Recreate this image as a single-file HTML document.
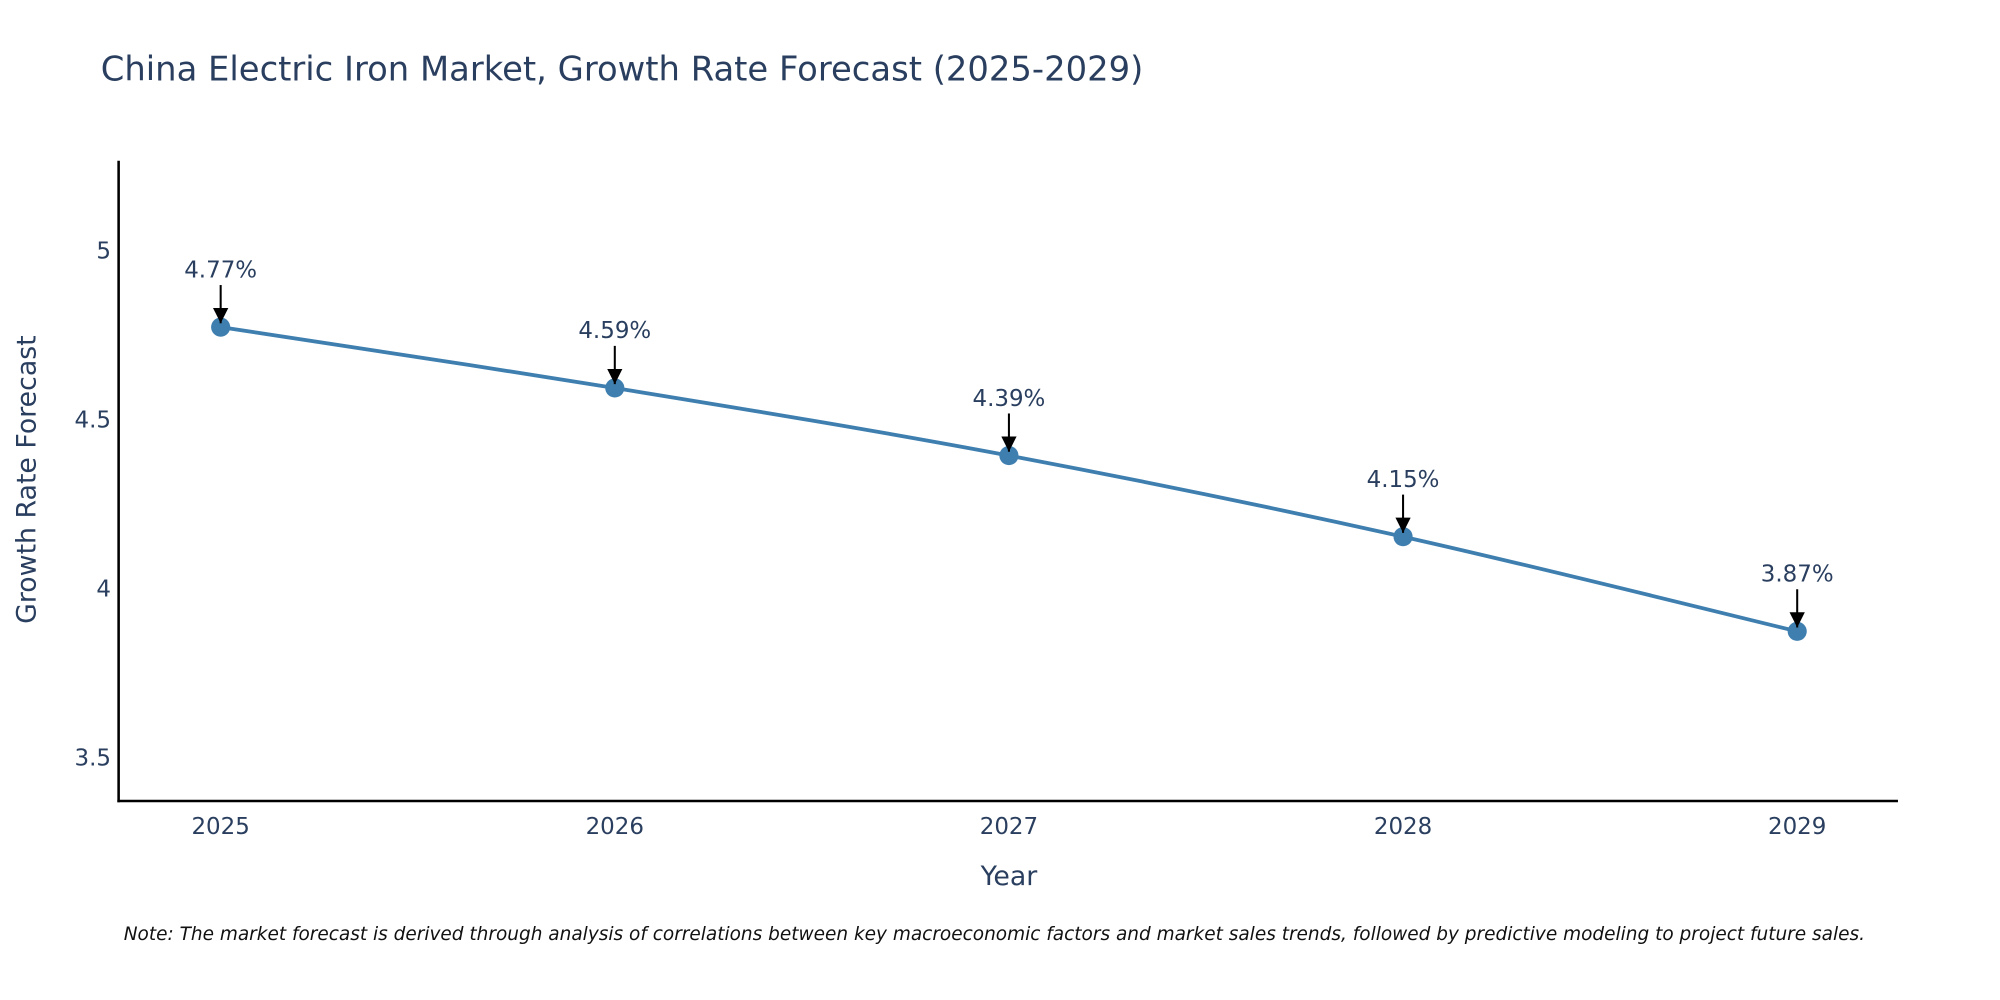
<!DOCTYPE html>
<html><head><meta charset="utf-8"><style>html,body{margin:0;padding:0;background:#fff;}svg{display:block;}</style></head>
<body>
<svg id="chart" width="2000" height="1000" viewBox="0 0 1568 784" preserveAspectRatio="none" xmlns="http://www.w3.org/2000/svg" font-family="'DejaVu Sans', 'Liberation Sans', sans-serif">
<defs><marker id="ah" viewBox="0 0 10 10" refX="10" refY="5" markerWidth="12" markerHeight="12" markerUnits="userSpaceOnUse" orient="auto"><path d="M0,0 L10,5 L0,10 z" fill="#000"/></marker></defs>
<rect width="1568" height="784" fill="#fff"/>
<text x="79" y="63" font-size="26.5" fill="#2a3f5f">China Electric Iron Market, Growth Rate Forecast (2025-2029)</text>
<g id="yticks"></g><g id="xticks"></g>
<line x1="93" y1="126" x2="93" y2="629" stroke="#000" stroke-width="2"/>
<line x1="92" y1="628" x2="1488" y2="628" stroke="#000" stroke-width="2"/>
<text transform="translate(28,376) rotate(-90)" text-anchor="middle" font-size="21" fill="#2a3f5f">Growth Rate Forecast</text>
<text x="791" y="694" text-anchor="middle" font-size="21" fill="#2a3f5f">Year</text>
<g id="series"></g>
<text x="97" y="737" font-size="14.5" font-style="italic" fill="#111">Note: The market forecast is derived through analysis of correlations between key macroeconomic factors and market sales trends, followed by predictive modeling to project future sales.</text>
</svg>
<script>
const years = [2025, 2026, 2027, 2028, 2029];
const growth = [4.77, 4.59, 4.39, 4.15, 3.87];
const yTicks = [3.5, 4, 4.5, 5];
const NS = 'http://www.w3.org/2000/svg';
function xs(i){ return 173 + i * 309; }
function ys(v){ return 628 - (v - 3.368) / 0.5 * 132.5; }
function mk(tag, attrs, parent){ const e = document.createElementNS(NS, tag); for (const k in attrs) e.setAttribute(k, attrs[k]); parent.appendChild(e); return e; }
const yg = document.getElementById('yticks');
yTicks.forEach(t => {
  const e = mk('text', {x: 87, y: ys(t) + 7, 'text-anchor': 'end', 'font-size': 18, fill: '#2a3f5f'}, yg);
  
  
  e.textContent = String(t);
});
const xg = document.getElementById('xticks');
years.forEach((yr, i) => {
  const e = mk('text', {x: xs(i), y: 654, 'text-anchor': 'middle', 'font-size': 18, fill: '#2a3f5f'}, xg);
  
  
  e.textContent = String(yr);
});
const sg = document.getElementById('series');
const pts = growth.map((v, i) => [xs(i), ys(v)]);
let d = 'M' + pts[0][0] + ',' + pts[0][1];
for (let i = 0; i < pts.length - 1; i++) {
  const p0 = pts[Math.max(0, i - 1)], p1 = pts[i], p2 = pts[i + 1], p3 = pts[Math.min(pts.length - 1, i + 2)];
  const c1x = p1[0] + (p2[0] - p0[0]) / 6, c1y = p1[1] + (p2[1] - p0[1]) / 6;
  const c2x = p2[0] - (p3[0] - p1[0]) / 6, c2y = p2[1] - (p3[1] - p1[1]) / 6;
  d += ' C' + c1x + ',' + c1y + ' ' + c2x + ',' + c2y + ' ' + p2[0] + ',' + p2[1];
}
const line = mk('path', {d: d, fill: 'none', stroke: '#3f7fb0', 'stroke-width': 3}, sg);


growth.forEach((v, i) => {
  const x = xs(i), y = ys(v);
  const c = mk('circle', {cx: x, cy: y, r: 7.5, fill: '#3f7fb0'}, sg);
  
  
  const a = mk('line', {x1: x, y1: y - 33, x2: x, y2: y - 3, stroke: '#000', 'stroke-width': 1.6, 'marker-end': 'url(#ah)'}, sg);
  
  
  const t = mk('text', {x: x, y: y - 39, 'text-anchor': 'middle', 'font-size': 18, fill: '#2a3f5f'}, sg);
  
  
  t.textContent = v.toFixed(2) + '%';
});
</script>
</body></html>
